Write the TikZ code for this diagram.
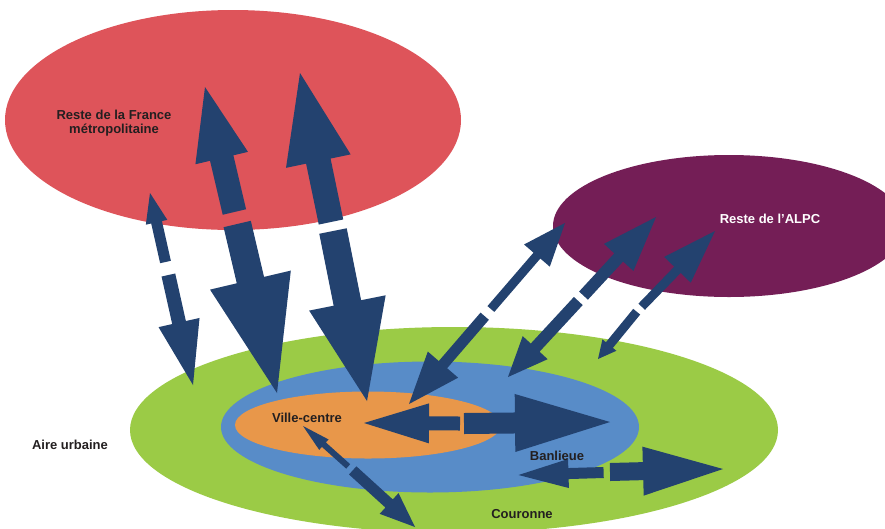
\documentclass[tikz,border=0pt]{standalone}
\usepackage{fontspec}
\setmainfont{Liberation Sans}
\usetikzlibrary{calc,shapes.geometric}
\definecolor{cRed}{HTML}{DE545A}
\definecolor{cPurple}{HTML}{741E56}
\definecolor{cGreen}{HTML}{9BCB46}
\definecolor{cBlue}{HTML}{588CC8}
\definecolor{cOrange}{HTML}{E8974A}
\definecolor{cNavy}{HTML}{23426F}
\definecolor{cText}{HTML}{231F20}
% start, tip, shaft width, head width, head length (numbers in pt)
\newcommand\fatarrow[5]{%
  \coordinate (fah) at ($(#2)!#5pt!(#1)$);
  \fill[cNavy] ($(#1)!#3pt/2!90:(#2)$) -- ($(fah)!#3pt/2!90:(#2)$) -- ($(fah)!#4pt/2!90:(#2)$) -- (#2)
    -- ($(fah)!#4pt/2!-90:(#2)$) -- ($(fah)!#3pt/2!-90:(#2)$) -- ($(#1)!#3pt/2!-90:(#2)$) -- cycle;}
\tikzset{
  zone/.style={ellipse, draw=none, inner sep=0pt, outer sep=0pt},
  lbl/.style={font=\bfseries\fontsize{13}{14}\selectfont, text=cText, inner sep=0pt, align=center}
}
\begin{document}
\begin{tikzpicture}[x=1pt,y=-1pt]
\useasboundingbox (0,0) rectangle (885,528);
\fill[white] (0,0) rectangle (885,528);
\clip (0,0) rectangle (885,528);
% zones
\node[zone, fill=cGreen, minimum width=648pt, minimum height=206pt] (couronne) at (454,430) {};
\node[zone, fill=cBlue, minimum width=418pt, minimum height=131pt] (banlieue) at (430,427) {};
\node[zone, fill=cOrange, minimum width=266pt, minimum height=67pt] (ville) at (368,425) {};
\node[zone, fill=cRed, minimum width=456pt, minimum height=220pt] (france) at (233,120) {};
\node[zone, fill=cPurple, minimum width=352pt, minimum height=142pt] (alpc) at (729,226) {};
% arrow end points
\coordinate (f1u) at (150,193); \coordinate (f1a) at (165.5,262);
\coordinate (f1b) at (168.4,275); \coordinate (f1d) at (193,385);
\coordinate (f2u) at (205,87); \coordinate (f2a) at (234.4,212);
\coordinate (f2b) at (237.2,224); \coordinate (f2d) at (277,393);
\coordinate (f3u) at (300,73); \coordinate (f3a) at (331,222);
\coordinate (f3b) at (333,231); \coordinate (f3d) at (367,401);
\coordinate (r1u) at (565,223); \coordinate (r1a) at (490.9,309);
\coordinate (r1b) at (484.7,316.2); \coordinate (r1d) at (409,404);
\coordinate (r2u) at (656,217); \coordinate (r2a) at (583.5,295.6);
\coordinate (r2b) at (578.3,301); \coordinate (r2d) at (508,377);
\coordinate (r3u) at (715,231); \coordinate (r3a) at (641.7,306.7);
\coordinate (r3b) at (636.7,311.7); \coordinate (r3d) at (598,359);
\coordinate (h1l) at (364,423); \coordinate (h1a) at (460,423.5);
\coordinate (h1b) at (464,423.5); \coordinate (h1r) at (610,422);
\coordinate (h2l) at (518.5,475); \coordinate (h2a) at (603.6,472.5);
\coordinate (h2b) at (610,472); \coordinate (h2r) at (723,469);
\coordinate (d1u) at (303,426); \coordinate (d1a) at (348.2,466.4);
\coordinate (d1b) at (352.7,470.4); \coordinate (d1d) at (415,527);
% arrows to/from France
\fatarrow{f1a}{f1u}{11}{22}{30}
\fatarrow{f1b}{f1d}{14}{42}{64}
\fatarrow{f2a}{f2u}{24}{54}{73}
\fatarrow{f2b}{f2d}{28}{83}{116}
\fatarrow{f3a}{f3u}{25}{66}{90}
\fatarrow{f3b}{f3d}{28}{78}{100}
% arrows to/from ALPC
\fatarrow{r1a}{r1u}{9}{34}{43}
\fatarrow{r1b}{r1d}{11}{40}{52}
\fatarrow{r2a}{r2u}{12}{40}{55}
\fatarrow{r2b}{r2d}{12}{34}{40}
\fatarrow{r3a}{r3u}{9}{37}{54}
\fatarrow{r3b}{r3d}{9}{18}{18}
% inner arrows
\fatarrow{h1a}{h1l}{14}{40}{65}
\fatarrow{h1b}{h1r}{21}{58}{95}
\fatarrow{h2a}{h2l}{11}{29}{50}
\fatarrow{h2b}{h2r}{18}{49}{80}
\fatarrow{d1a}{d1u}{6}{14}{28}
\fatarrow{d1b}{d1d}{11}{28}{35}
% labels
\node[lbl] (tfrance) at (114,123) {Reste de la France\\métropolitaine};
\node[lbl, text=white] (talpc) at (770,219) {Reste de l’ALPC};
\node[lbl] (tville) at (307,418) {Ville-centre};
\node[lbl] (taire) at (70,445) {Aire urbaine};
\node[lbl] (tbanl) at (557,456) {Banlieue};
\node[lbl] (tcour) at (522,514) {Couronne};
\end{tikzpicture}
\end{document}
